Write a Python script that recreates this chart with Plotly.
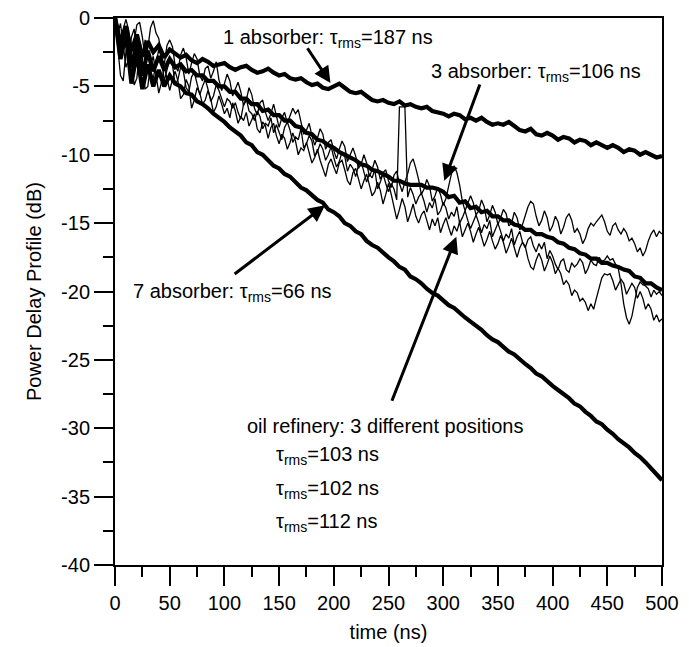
import plotly.graph_objects as go

# time grids (ns)
t_thick = [5 * i for i in range(101)]
t_thin = [2.5 * i for i in range(201)]

# 1 absorber (tau_rms = 187 ns)
absorber1 = [0, -1.8, -0.6, -2.4, -1.2, -2.8, -1.7, -2.5, -2.0, -2.9,
             -2.3, -2.6, -2.9, -2.7, -3.1, -3.3, -3.0, -3.2, -3.5, -3.4,
             -3.3, -3.6, -3.8, -3.6, -3.5, -3.8, -4.0, -3.9, -3.7, -4.0,
             -4.2, -4.1, -4.4, -4.5, -4.4, -4.7, -4.9, -4.8, -5.1, -5.2,
             -5.0, -4.8, -5.1, -5.4, -5.5, -5.4, -5.7, -6.0, -6.1, -6.0,
             -6.2, -6.3, -6.1, -6.4, -6.3, -6.5, -6.6, -6.5, -6.8, -6.9,
             -7.0, -7.2, -7.0, -7.1, -7.4, -7.3, -7.5, -7.3, -7.6, -7.8,
             -7.7, -7.8, -7.6, -7.9, -8.2, -8.3, -8.1, -8.5, -8.6, -8.4,
             -8.6, -8.9, -8.7, -8.8, -9.1, -8.9, -9.0, -9.3, -9.1, -9.3,
             -9.5, -9.3, -9.5, -9.8, -9.6, -9.7, -10.0, -9.8, -10.0, -10.2,
             -10.1]

# 3 absorber (tau_rms = 106 ns)
absorber3 = [0, -2.4, -0.6, -3.6, -1.8, -4.2, -2.4, -3.9, -2.8, -3.8,
             -3.0, -3.6, -3.4, -3.9, -3.8, -4.2, -4.2, -4.6, -4.6, -5.0,
             -5.0, -5.4, -5.4, -5.9, -5.9, -6.3, -6.3, -6.8, -6.7, -7.1,
             -7.1, -7.5, -7.5, -7.9, -8.0, -8.4, -8.5, -8.9, -9.0, -9.3,
             -9.5, -9.8, -10.0, -10.2, -10.4, -10.7, -10.8, -11.1, -11.2, -11.4,
             -11.6, -11.9, -11.9, -12.1, -12.2, -12.2, -12.2, -12.4, -12.4, -12.5,
             -12.7, -13.1, -13.0, -13.5, -13.4, -13.9, -13.8, -14.2, -14.1, -14.5,
             -14.5, -14.8, -14.8, -15.1, -15.2, -15.5, -15.5, -15.8, -15.8, -16.0,
             -16.1, -16.4, -16.5, -16.8, -16.9, -17.2, -17.3, -17.6, -17.6, -17.9,
             -17.9, -18.1, -18.2, -18.4, -18.5, -18.9, -19.0, -19.4, -19.4, -19.7,
             -19.9]

# 7 absorber (tau_rms = 66 ns)
absorber7 = [0, -3.0, -1.2, -4.8, -2.6, -5.2, -3.4, -5.0, -3.8, -5.0,
             -4.2, -4.8, -5.0, -5.5, -5.6, -6.1, -6.3, -6.6, -7.0, -7.3,
             -7.6, -8.0, -8.3, -8.6, -9.1, -9.3, -9.8, -10.0, -10.4, -10.8,
             -11.0, -11.4, -11.6, -12.0, -12.4, -12.6, -13.0, -13.3, -13.5, -14.0,
             -14.2, -14.5, -15.0, -15.2, -15.6, -15.8, -16.3, -16.6, -16.8, -17.2,
             -17.5, -17.8, -18.2, -18.4, -18.9, -19.1, -19.4, -19.8, -20.1, -20.3,
             -20.7, -21.0, -21.2, -21.6, -21.9, -22.2, -22.5, -22.8, -23.2, -23.5,
             -23.7, -24.1, -24.4, -24.6, -25.0, -25.3, -25.6, -26.0, -26.2, -26.6,
             -26.9, -27.2, -27.5, -27.8, -28.2, -28.4, -28.8, -29.1, -29.5, -29.7,
             -30.1, -30.4, -30.8, -31.1, -31.4, -31.8, -32.1, -32.5, -32.9, -33.3,
             -33.8]

# oil refinery, position 1
refinery1 = [0, -0.6, -1.9, -0.8, -0.1, -0.9, -2.6, -1.7, -0.5, -0.3,
             -1.4, -2.9, -2.2, -0.7, -0.2, -1.1, -1.5, -2.8, -3.4, -2.0,
             -1.6, -2.1, -3.5, -3.9, -2.7, -2.2, -2.9, -4.1, -3.3, -2.6,
             -3.0, -4.2, -4.6, -3.7, -3.5, -4.4, -3.9, -3.2, -4.5, -5.3,
             -4.8, -4.1, -4.6, -5.7, -5.2, -4.7, -5.4, -6.4, -6.0, -5.1,
             -5.6, -6.6, -7.1, -6.2, -6.0, -6.9, -7.5, -7.0, -6.3, -7.2,
             -8.0, -7.3, -6.9, -7.7, -7.2, -6.6, -7.0, -6.7, -7.6, -8.5,
             -8.2, -7.7, -8.6, -9.3, -8.8, -8.1, -8.5, -9.6, -9.1, -8.9,
             -9.7, -10.3, -9.6, -9.0, -9.4, -10.5, -10.0, -9.5, -10.1, -11.0,
             -10.7, -10.0, -10.6, -11.6, -11.1, -10.4, -10.9, -11.8, -11.3, -11.1,
             -11.9, -12.4, -11.5, -11.2, -12.1, -12.7, -12.0, -11.4, -10.6, -10.3,
             -11.0, -11.8, -12.9, -12.5, -11.8, -12.3, -13.4, -13.0, -12.4, -12.9,
             -13.7, -13.2, -12.3, -11.4, -10.8, -11.3, -12.2, -13.4, -14.1, -13.6,
             -13.0, -13.5, -14.4, -14.1, -13.3, -13.8, -14.9, -14.4, -13.7, -14.2,
             -15.1, -14.6, -14.0, -14.3, -15.2, -15.0, -14.2, -14.6, -15.5, -15.1,
             -14.4, -13.8, -13.4, -13.6, -14.5, -15.2, -14.8, -14.1, -14.6, -15.6,
             -15.2, -14.5, -14.9, -15.8, -15.3, -14.6, -14.3, -14.8, -15.7, -15.4,
             -15.8, -16.5, -16.1, -15.4, -15.0, -15.2, -14.9, -14.6, -14.4, -14.9,
             -15.6, -15.9, -15.2, -15.0, -15.5, -15.8, -15.4, -15.7, -16.3, -16.1,
             -16.5, -17.1, -16.8, -17.4, -17.0, -16.3, -15.8, -15.5, -16.0, -15.6,
             -15.8]

# oil refinery, position 2
refinery2 = [0, -1.2, -0.4, -1.9, -3.6, -3.0, -1.4, -0.8, -2.3, -3.9,
             -3.1, -1.6, -2.4, -4.0, -4.4, -3.2, -2.3, -2.9, -4.6, -3.8,
             -3.0, -3.4, -4.9, -4.5, -3.6, -3.9, -5.1, -5.4, -4.3, -4.0,
             -4.7, -5.6, -5.0, -4.5, -5.2, -6.1, -5.7, -4.9, -5.3, -6.0,
             -6.5, -5.9, -6.1, -6.6, -6.2, -6.9, -7.4, -6.3, -5.9, -6.8,
             -7.0, -7.5, -6.8, -7.2, -8.1, -7.7, -7.9, -7.3, -8.4, -7.8,
             -8.3, -8.9, -8.0, -7.6, -8.2, -9.1, -8.7, -8.9, -8.1, -9.5,
             -9.2, -8.6, -9.0, -10.1, -9.8, -9.2, -9.6, -10.4, -10.0, -9.4,
             -10.2, -10.9, -10.5, -9.8, -10.1, -11.2, -10.7, -11.0, -11.6, -10.8,
             -10.5, -11.2, -12.0, -11.4, -11.7, -11.1, -12.5, -12.0, -11.4, -12.1,
             -12.7, -12.1, -12.5, -13.3, -6.5, -6.5, -6.5, -13.1, -12.4, -12.9,
             -13.6, -13.1, -12.8, -13.4, -14.2, -13.5, -13.9, -13.2, -14.4, -14.1,
             -13.5, -13.9, -14.7, -14.2, -14.5, -13.8, -15.0, -14.6, -14.1, -14.8,
             -15.4, -14.9, -14.4, -15.0, -15.7, -15.1, -15.4, -14.8, -16.0, -15.5,
             -15.0, -15.6, -16.3, -15.8, -16.1, -15.4, -16.6, -16.0, -15.6, -16.4,
             -16.8, -16.2, -16.0, -16.7, -17.1, -16.5, -16.9, -16.4, -17.6, -17.0,
             -17.4, -18.0, -18.4, -17.8, -17.6, -18.4, -18.6, -17.9, -18.2, -18.0,
             -17.6, -17.9, -18.7, -18.3, -17.7, -18.0, -18.1, -17.5, -17.8, -17.7,
             -17.4, -17.7, -17.6, -18.0, -18.3, -19.4, -20.9, -21.9, -22.4, -21.8,
             -20.7, -19.7, -19.3, -19.5, -19.6, -19.8, -20.4, -19.9, -20.2, -20.0,
             -20.3]

# oil refinery, position 3
refinery3 = [0, -2.1, -4.2, -4.6, -2.5, -1.3, -2.9, -4.9, -4.4, -2.3,
             -3.1, -5.2, -5.0, -3.4, -2.8, -4.1, -5.5, -4.7, -3.6, -4.4,
             -5.3, -4.5, -3.9, -4.6, -5.9, -5.6, -4.5, -5.0, -6.6, -6.0,
             -5.1, -5.5, -6.3, -6.0, -5.3, -5.9, -6.9, -6.5, -5.7, -6.3,
             -7.0, -6.6, -7.3, -6.2, -6.8, -7.7, -7.2, -7.5, -6.9, -7.9,
             -7.4, -7.0, -8.1, -8.4, -7.6, -7.9, -8.8, -8.0, -7.7, -8.6,
             -9.2, -8.5, -8.8, -9.6, -9.1, -8.4, -9.0, -10.0, -9.5, -9.7,
             -9.1, -9.9, -10.6, -10.2, -9.6, -10.4, -11.0, -11.6, -10.7, -10.3,
             -10.9, -11.4, -10.6, -10.4, -11.1, -11.9, -12.2, -11.3, -11.0, -11.8,
             -12.5, -11.9, -11.4, -12.2, -13.0, -12.7, -12.0, -12.6, -13.6, -12.9,
             -12.1, -12.9, -13.9, -14.7, -14.0, -13.2, -13.8, -14.9, -14.3, -13.6,
             -14.5, -15.0, -14.4, -14.1, -14.8, -15.5, -14.7, -15.2, -14.6, -15.7,
             -15.1, -14.6, -15.3, -15.9, -15.2, -15.6, -14.9, -16.0, -15.5, -15.0,
             -15.6, -16.4, -15.8, -15.3, -16.0, -16.7, -16.2, -15.6, -16.3, -16.9,
             -16.5, -15.9, -16.4, -17.2, -16.7, -16.1, -16.8, -17.5, -16.8, -16.4,
             -16.7, -17.6, -18.2, -18.4, -17.7, -17.2, -17.7, -18.5, -18.0, -17.4,
             -17.9, -18.7, -18.3, -18.7, -19.5, -19.2, -19.5, -20.3, -19.9, -20.1,
             -20.7, -20.5, -20.8, -21.4, -20.9, -21.3, -20.5, -19.7, -19.0, -18.7,
             -18.8, -18.7, -19.2, -19.9, -19.5, -19.1, -19.4, -20.2, -19.8, -19.4,
             -19.7, -20.5, -20.0, -20.5, -21.3, -20.9, -21.3, -22.1, -21.7, -22.2,
             -22.0]

x_ticks = [0, 50, 100, 150, 200, 250, 300, 350, 400, 450, 500]
y_ticks = [0, -5, -10, -15, -20, -25, -30, -35, -40]
y_tick_text = ["0", "-5", "-10", "-15", "-20", "-25", "-30", "-35", "-40"]

FONT = "Arial, 'Liberation Sans', Helvetica, sans-serif"
FS = 20

fig = go.Figure()
for ys in (refinery1, refinery2, refinery3):
    fig.add_trace(go.Scatter(x=t_thin, y=ys, mode="lines",
                             line=dict(color="black", width=1.3), showlegend=False))
for ys in (absorber1, absorber3, absorber7):
    fig.add_trace(go.Scatter(x=t_thick, y=ys, mode="lines",
                             line=dict(color="black", width=4.2), showlegend=False))

ann = []
def label(x, y, text):
    ann.append(dict(x=x, y=y, xref="x", yref="y", text=text, showarrow=False,
                    xanchor="left", yanchor="middle",
                    font=dict(family=FONT, size=FS, color="black")))

def arrow(x, y, ax, ay):
    ann.append(dict(x=x, y=y, ax=ax, ay=ay, xref="x", yref="y", axref="x", ayref="y",
                    text="", showarrow=True, arrowhead=2, arrowsize=1.1,
                    arrowwidth=3, arrowcolor="black"))

label(97, -1.5, "1 absorber: τ<sub>rms</sub>=187 ns")
label(287, -4.0, "3 absorber: τ<sub>rms</sub>=106 ns")
label(15, -20.1, "7 absorber: τ<sub>rms</sub>=66 ns")
label(119, -29.8, "oil refinery: 3 different positions")
label(145, -32.0, "τ<sub>rms</sub>=103 ns")
label(145, -34.5, "τ<sub>rms</sub>=102 ns")
label(145, -36.9, "τ<sub>rms</sub>=112 ns")

arrow(197, -4.75, 175, -2.1)
arrow(301, -11.9, 334, -4.75)
arrow(192, -13.7, 108, -18.8)
arrow(312, -16.0, 252.6, -28.1)

fig.update_layout(
    width=689, height=647,
    margin=dict(l=107, r=35, t=10, b=90),
    paper_bgcolor="white", plot_bgcolor="white",
    font=dict(family=FONT, size=FS, color="black"),
    annotations=ann,
    showlegend=False,
)
fig.update_xaxes(range=[0, 500], tickvals=x_ticks, ticks="outside", ticklen=19,
                 tickwidth=2, tickcolor="black", showline=True, linewidth=2,
                 linecolor="black", mirror=True, showgrid=False, zeroline=False,
                 automargin=False, ticklabeloverflow="allow",
                 minor=dict(dtick=25, ticks="outside", ticklen=10, tickwidth=2,
                            tickcolor="black", showgrid=False),
                 title=dict(text="time (ns)", font=dict(size=FS), standoff=12),
                 tickfont=dict(size=FS))
fig.update_yaxes(range=[-40, 0], tickvals=y_ticks, ticktext=y_tick_text,
                 ticks="outside", ticklen=19,
                 tickwidth=2, tickcolor="black", showline=True, linewidth=2,
                 linecolor="black", mirror=True, showgrid=False, zeroline=False,
                 automargin=False, ticklabeloverflow="allow",
                 minor=dict(dtick=2.5, ticks="outside", ticklen=10, tickwidth=2,
                            tickcolor="black", showgrid=False),
                 title=dict(text="Power Delay Profile (dB)", font=dict(size=FS), standoff=14),
                 tickfont=dict(size=FS))

fig.write_html("out.html")
